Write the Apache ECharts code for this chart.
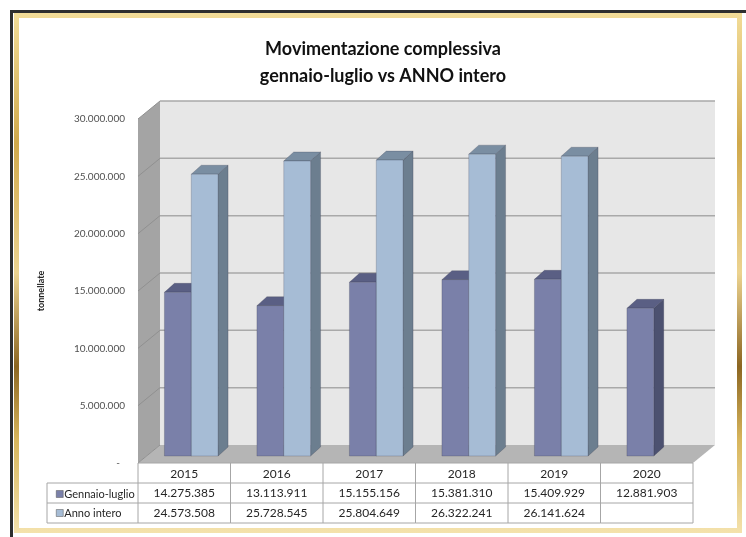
<!DOCTYPE html>
<html>
<head>
<meta charset="utf-8">
<script src="https://cdn.jsdelivr.net/npm/echarts@6/dist/echarts.min.js"></script>
<style>
  html, body { margin: 0; padding: 0; background: #fff; }
  #chart { width: 746px; height: 537px; }
</style>
</head>
<body>
<div id="chart"></div>
<script>
const YEARS = ['2015', '2016', '2017', '2018', '2019', '2020'];
const GENNAIO_LUGLIO = [14275385, 13113911, 15155156, 15381310, 15409929, 12881903];
const ANNO_INTERO = [24573508, 25728545, 25804649, 26322241, 26141624, null];
const Y_TICKS = [0, 5000000, 10000000, 15000000, 20000000, 25000000, 30000000];
const Y_MAX = 30000000;

// 3d look: depth of the walls and position of the bars inside it
const WALL_DX = 22, WALL_DY = -18;
const BAR_DX = 7, BAR_DY = -7;
const BAR_RATIO = 0.29;
const SIDE_DX = 10, SIDE_DY = -9;
const FONT = 'Lato, "Open Sans", sans-serif';

function fmt(n) {
  return String(n).replace(/\B(?=(\d{3})+(?!\d))/g, '.');
}

function renderWalls(params, api) {
  const cs = params.coordSys;
  const x0 = cs.x, x1 = cs.x + cs.width;
  const yTop = api.coord([0, Y_MAX])[1];
  const yBase = api.coord([0, 0])[1];
  return {
    type: 'group',
    silent: true,
    children: [
      {
        type: 'polygon',
        shape: { points: [[x0 + WALL_DX, yTop + WALL_DY], [x1 + WALL_DX, yTop + WALL_DY], [x1 + WALL_DX, yBase + WALL_DY], [x0 + WALL_DX, yBase + WALL_DY]] },
        style: { fill: '#e7e7e7' }
      },
      {
        type: 'polygon',
        shape: { points: [[x0, yTop], [x0 + WALL_DX, yTop + WALL_DY], [x0 + WALL_DX, yBase + WALL_DY], [x0, yBase]] },
        style: { fill: '#a4a4a4' }
      },
      {
        type: 'polygon',
        shape: { points: [[x0, yBase], [x0 + WALL_DX, yBase + WALL_DY], [x1 + WALL_DX, yBase + WALL_DY], [x1, yBase]] },
        style: { fill: '#b5b5b5' }
      }
    ]
  };
}

function renderGridLines(params, api) {
  const cs = params.coordSys;
  const x0 = cs.x, x1 = cs.x + cs.width;
  const y = api.coord([0, api.value(1)])[1];
  const children = [{
    type: 'line',
    shape: { x1: x0, y1: y, x2: x0 + WALL_DX, y2: y + WALL_DY },
    style: { stroke: '#909090', lineWidth: 1 }
  }];
  if (api.value(1) > 0) {
    children.push({
      type: 'line',
      shape: { x1: x0 + WALL_DX, y1: y + WALL_DY, x2: x1 + WALL_DX, y2: y + WALL_DY },
      style: { stroke: '#a9a9a9', lineWidth: 1.5 }
    });
  }
  return { type: 'group', silent: true, children: children };
}

function barRenderer(slot, front, top, side) {
  return function (params, api) {
    const v = api.value(1);
    if (v == null || isNaN(v)) return;
    const c = api.coord([api.value(0), v]);
    const b = api.coord([api.value(0), 0]);
    const w = api.size([1, 0])[0] * BAR_RATIO;
    const xl = c[0] + BAR_DX + (slot - 1) * w;
    const xr = xl + w;
    const yt = c[1] + BAR_DY;
    const yb = b[1] + BAR_DY;
    const edge = { stroke: 'rgba(40,40,60,0.35)', lineWidth: 0.6 };
    return {
      type: 'group',
      children: [
        { type: 'polygon', shape: { points: [[xr, yt], [xr + SIDE_DX, yt + SIDE_DY], [xr + SIDE_DX, yb + SIDE_DY], [xr, yb]] }, style: Object.assign({ fill: side }, edge) },
        { type: 'polygon', shape: { points: [[xl, yt], [xl + SIDE_DX, yt + SIDE_DY], [xr + SIDE_DX, yt + SIDE_DY], [xr, yt]] }, style: Object.assign({ fill: top }, edge) },
        { type: 'rect', shape: { x: xl, y: yt, width: w, height: yb - yt }, style: Object.assign({ fill: front }, edge) }
      ]
    };
  };
}

function renderTable(params, api) {
  const i = api.value(0);
  const p = api.coord([i, 0]);
  const w = api.size([1, 0])[0];
  const xl = p[0] - w / 2, xr = p[0] + w / 2;
  const y0 = p[1], y1 = y0 + 20, y2 = y1 + 20, y3 = y2 + 20;
  const line = { stroke: '#a6a6a6', lineWidth: 1 };
  const children = [
    { type: 'line', shape: { x1: xl, y1: y0, x2: xr, y2: y0 }, style: line },
    { type: 'line', shape: { x1: xl, y1: y1, x2: xr, y2: y1 }, style: line },
    { type: 'line', shape: { x1: xl, y1: y2, x2: xr, y2: y2 }, style: line },
    { type: 'line', shape: { x1: xl, y1: y3, x2: xr, y2: y3 }, style: line },
    { type: 'line', shape: { x1: xr, y1: y0, x2: xr, y2: y3 }, style: line }
  ];
  if (i === 0) {
    const lx = xl - 91;
    children.push(
      { type: 'line', shape: { x1: xl, y1: y0, x2: xl, y2: y3 }, style: line },
      { type: 'line', shape: { x1: lx, y1: y1, x2: xl, y2: y1 }, style: line },
      { type: 'line', shape: { x1: lx, y1: y2, x2: xl, y2: y2 }, style: line },
      { type: 'line', shape: { x1: lx, y1: y3, x2: xl, y2: y3 }, style: line },
      { type: 'line', shape: { x1: lx, y1: y1, x2: lx, y2: y3 }, style: line }
    );
  }
  const txt = (s, y) => ({
    type: 'text',
    style: { text: s, x: p[0], y: y, align: 'center', verticalAlign: 'middle', fontSize: 12, fontFamily: FONT, fill: '#262626' }
  });
  if (GENNAIO_LUGLIO[i] != null) children.push(txt(fmt(GENNAIO_LUGLIO[i]), (y1 + y2) / 2));
  if (ANNO_INTERO[i] != null) children.push(txt(fmt(ANNO_INTERO[i]), (y2 + y3) / 2));
  return { type: 'group', silent: true, children: children };
}

const chart = echarts.init(document.getElementById('chart'));

chart.setOption({
  animation: false,
  backgroundColor: '#fff',
  title: {
    text: 'Movimentazione complessiva\ngennaio-luglio vs ANNO intero',
    left: 378,
    textAlign: 'center',
    top: 31,
    textStyle: { fontFamily: FONT, fontSize: 18, fontWeight: 'bold', color: '#111', lineHeight: 27 }
  },
  legend: {
    orient: 'vertical',
    left: 51,
    top: 482,
    icon: 'rect',
    itemWidth: 7,
    itemHeight: 7,
    itemGap: 5,
    selectedMode: false,
    data: ['Gennaio-luglio', 'Anno intero'],
    itemStyle: { borderColor: '#555', borderWidth: 0.5 },
    textStyle: { fontFamily: FONT, fontSize: 11, color: '#262626', lineHeight: 14, padding: [0, 0, 0, -4] }
  },
  graphic: [
    { type: 'line', shape: { x1: 10, y1: 11.5, x2: 746, y2: 11.5 }, style: { stroke: '#2e2e2e', lineWidth: 3 } },
    { type: 'line', shape: { x1: 11.5, y1: 10, x2: 11.5, y2: 537 }, style: { stroke: '#2e2e2e', lineWidth: 3 } },
    {
      type: 'rect',
      shape: { x: 16.5, y: 15.5, width: 723, height: 515 },
      style: {
        fill: 'none',
        lineWidth: 5,
        stroke: new echarts.graphic.LinearGradient(0, 0, 0, 1, [
          { offset: 0, color: '#f2dc98' },
          { offset: 0.25, color: '#d0a94c' },
          { offset: 0.5, color: '#ecd390' },
          { offset: 0.68, color: '#8c6622' },
          { offset: 0.82, color: '#d7b55c' },
          { offset: 1, color: '#f4e2ac' }
        ])
      }
    }
  ],
  grid: { left: 138, right: 53, top: 119, bottom: 74 },
  xAxis: {
    type: 'category',
    data: YEARS,
    axisLine: { show: false },
    axisTick: { show: false },
    axisLabel: { margin: 5, fontFamily: FONT, fontSize: 12, color: '#262626' }
  },
  yAxis: {
    type: 'value',
    min: 0,
    max: Y_MAX,
    interval: 5000000,
    name: 'tonnellate',
    nameLocation: 'middle',
    nameGap: 92,
    nameTextStyle: { fontFamily: FONT, fontSize: 9, fontWeight: 'bold', color: '#222' },
    axisLine: { show: false },
    axisTick: { show: false },
    splitLine: { show: false },
    axisLabel: {
      margin: 13,
      fontFamily: FONT,
      fontSize: 10,
      color: '#505050',
      formatter: v => (v === 0 ? '-  ' : fmt(v))
    }
  },
  series: [
    { type: 'custom', name: 'walls', silent: true, renderItem: renderWalls, data: [[0, 0]], z: 1 },
    { type: 'custom', name: 'grid', silent: true, renderItem: renderGridLines, data: Y_TICKS.map(v => [0, v]), z: 2 },
    {
      type: 'custom', name: 'Gennaio-luglio', z: 3,
      itemStyle: { color: '#7a80a9' },
      renderItem: barRenderer(0, '#7a80a9', '#5a5f84', '#4c5170'),
      data: GENNAIO_LUGLIO.map((v, i) => [i, v])
    },
    {
      type: 'custom', name: 'Anno intero', z: 4,
      itemStyle: { color: '#a6bcd5' },
      renderItem: barRenderer(1, '#a6bcd5', '#7a8ea2', '#6c7e8f'),
      data: ANNO_INTERO.map((v, i) => [i, v == null ? '-' : v])
    },
    { type: 'custom', name: 'table', silent: true, renderItem: renderTable, data: YEARS.map((y, i) => [i, 0]), z: 5 }
  ]
});
</script>
</body>
</html>
